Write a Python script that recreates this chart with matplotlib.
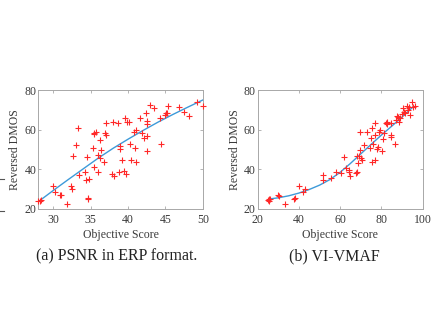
import numpy as np
import matplotlib
matplotlib.use('Agg')
import matplotlib.pyplot as plt
from matplotlib.lines import Line2D

plt.rcParams['font.family'] = 'Liberation Serif'
plt.rcParams['mathtext.fontset'] = 'stix'

# ── (a) PSNR in ERP format ───────────────────────────────────────────────────
psnr_x = [28.0, 28.2, 28.4, 30.0, 30.2, 30.9, 31.0, 31.8, 32.4, 32.5, 32.6, 33.0,
          33.3, 33.5, 34.3, 34.4, 34.5, 34.6, 34.7, 34.8, 35.3, 35.4, 35.5, 35.7,
          35.5, 36.0, 36.0, 36.2, 36.3, 36.4, 36.8, 36.9, 37.0, 37.1, 37.9, 38.0,
          38.1, 38.6, 38.8, 38.9, 38.9, 39.2, 39.4, 39.6, 39.8, 39.7, 40.1, 40.2,
          40.4, 40.8, 41.0, 40.9, 41.1, 41.6, 41.8, 42.2, 42.4, 42.5, 42.5, 42.5,
          42.6, 43.0, 43.5, 44.3, 44.4, 45.0, 45.1, 45.2, 45.4, 46.8, 47.5, 48.1,
          49.2, 50.0]
psnr_y = [24.2, 24.0, 24.5, 31.7, 28.4, 27.2, 26.9, 22.7, 31.7, 30.2, 46.8, 52.3,
          60.7, 37.3, 38.4, 34.7, 46.0, 25.5, 24.8, 35.2, 51.0, 58.5, 57.9, 58.9,
          41.0, 47.1, 38.6, 45.6, 55.0, 49.6, 43.6, 58.2, 57.4, 63.5, 37.8, 64.0,
          36.4, 63.6, 38.8, 52.0, 50.5, 44.8, 39.1, 65.7, 63.7, 37.8, 64.0, 52.8,
          44.5, 58.9, 59.9, 51.0, 43.8, 65.7, 58.5, 55.7, 68.2, 62.7, 64.6, 49.3,
          56.9, 72.6, 70.8, 66.1, 52.8, 67.4, 68.6, 68.2, 71.9, 71.6, 69.1, 66.9,
          74.1, 71.9]
psnr_fit_x = [28.2, 30, 32, 34, 36, 38, 40, 42, 44, 46, 48, 50]
psnr_fit_y = [24.2, 29.3, 34.8, 40.2, 45.6, 50.6, 55.2, 59.6, 63.8, 67.7, 71.4, 75.0]

# ── (b) VI-VMAF ──────────────────────────────────────────────────────────────
vmaf_x = [25.2, 25.6, 25.4, 26.0, 29.7, 30.2, 33.0, 37.7, 38.0, 40.1, 42.2, 43.1,
          51.8, 51.8, 55.6, 58.1, 60.4, 61.7, 62.7, 64.2, 64.5, 64.6, 67.7, 68.2,
          68.2, 68.5, 69.2, 69.5, 69.8, 70.2, 70.7, 71.5, 72.8, 74.4, 75.0, 75.5,
          75.5, 76.0, 76.7, 77.1, 77.1, 78.0, 78.3, 78.8, 79.3, 80.4, 80.7, 81.2,
          82.0, 82.5, 82.8, 84.4, 84.8, 84.8, 86.4, 86.9, 87.7, 88.2, 88.6, 89.0,
          90.1, 90.5, 90.9, 91.3, 92.2, 93.0, 93.4, 93.7, 94.8, 95.5, 96.5]
vmaf_y = [24.4, 24.0, 24.8, 25.0, 27.2, 26.7, 22.7, 25.2, 25.5, 31.7, 28.4, 30.0,
          37.3, 34.7, 35.6, 38.4, 38.1, 46.0, 40.9, 38.6, 39.4, 36.4, 38.1, 38.8,
          46.8, 43.1, 46.8, 58.7, 49.8, 45.6, 44.8, 52.3, 59.0, 50.7, 55.7, 60.7,
          43.5, 53.0, 57.4, 63.5, 44.5, 50.2, 51.5, 58.7, 59.9, 49.3, 55.2, 58.2,
          63.2, 64.0, 62.7, 57.4, 56.5, 63.5, 52.8, 64.9, 66.9, 66.2, 64.0, 65.7,
          67.7, 70.8, 68.7, 68.2, 71.9, 69.9, 71.6, 67.4, 74.1, 71.3, 71.9]
vmaf_fit_x = [25.5, 30, 35, 40, 45, 50, 55, 60, 65, 70, 75, 80, 85, 90, 95.4]
vmaf_fit_y = [25.0, 25.6, 26.6, 28.0, 29.8, 32.0, 34.8, 38.5, 43.0, 47.8, 52.6,
              57.3, 61.8, 66.4, 71.6]

panels = [
    (psnr_x, psnr_y, psnr_fit_x, psnr_fit_y, (28, 50), [30, 35, 40, 45, 50],
     '(a) PSNR in ERP format.'),
    (vmaf_x, vmaf_y, vmaf_fit_x, vmaf_fit_y, (20, 100), [20, 40, 60, 80, 100],
     '(b) VI-VMAF'),
]

AX_GREY = '#a8a8a8'
TXT = '#3a3a3a'
LINE = '#3d9ad9'

fig = plt.figure(figsize=(4.4, 3.3), dpi=100, facecolor='white')
rects = [[0.087, 0.367, 0.374, 0.360], [0.5857, 0.367, 0.375, 0.360]]
cap_x = [0.266, 0.761]

for rect, cx, (sx, sy, fx, fy, xlim, xt, cap) in zip(rects, cap_x, panels):
    ax = fig.add_axes(rect)
    ax.plot(sx, sy, '+', color='#ff2828', ms=4.5, mew=0.8, clip_on=False, zorder=3)
    ax.plot(fx, fy, '-', color=LINE, lw=1.0, zorder=2)
    ax.set_xlim(*xlim)
    ax.set_ylim(20, 80)
    ax.set_xticks(xt)
    ax.set_yticks([20, 40, 60, 80])
    ax.tick_params(direction='in', top=True, right=True, length=2.5, width=0.6,
                   color=AX_GREY, labelcolor=TXT, labelsize=8.5)
    ax.tick_params(axis='x', pad=3.5)
    ax.tick_params(axis='y', pad=1.5)
    for sp in ax.spines.values():
        sp.set_edgecolor(AX_GREY)
        sp.set_linewidth(0.7)
    ax.set_xlabel('Objective Score', fontsize=8.5, color=TXT, labelpad=2)
    ax.set_ylabel('Reversed DMOS', fontsize=8.5, color=TXT, labelpad=2)
    fig.text(cx, 0.224, cap, ha='center', va='center', fontsize=11.5, color='#222222')

# stray tick marks of the neighbouring figure at the left edge
for yy in [1 - 179 / 330, 1 - 210.5 / 330]:
    fig.add_artist(Line2D([0.0, 0.008], [yy, yy], color='#555555', lw=0.8))

fig.savefig('out.png', dpi=100, facecolor='white')
